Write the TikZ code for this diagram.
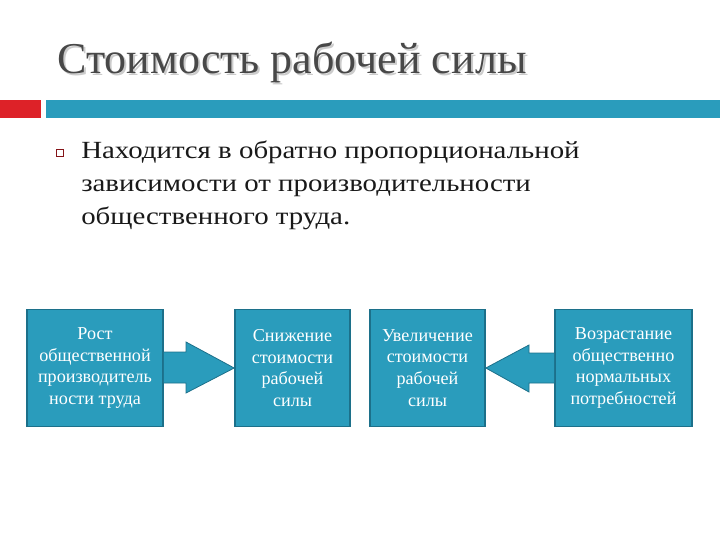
\documentclass[tikz,border=0pt]{standalone}
\usepackage{fontspec}
\setmainfont{Liberation Serif}
\newfontfamily\widefont[FakeStretch=1.17]{Liberation Serif}
\usetikzlibrary{positioning, calc}

\definecolor{tealfill}{RGB}{42,156,188}
\definecolor{tealline}{RGB}{28,112,138}
\definecolor{barred}{RGB}{221,34,40}
\definecolor{titlegray}{RGB}{72,72,72}

\begin{document}
\begin{tikzpicture}[
  x=0.75pt, y=-0.75pt,
  titletext/.style={font=\fontsize{33}{38}\selectfont, text=titlegray, inner sep=0pt, anchor=base west},
  bodytext/.style={font=\widefont\fontsize{18.5}{24.75}\selectfont, text=black!90, align=left, inner sep=0pt, anchor=base west},
  sbox/.style={rectangle, draw=tealline, line width=1.2pt, fill=tealfill, text=white, align=center, minimum height=87.75pt, font=\fontsize{13.6}{16.3}\selectfont, inner sep=2pt},
  barrow/.style={draw=tealline, line width=0.6pt, fill=tealfill},
  bulletbox/.style={draw=barred!60!black, line width=0.4pt, minimum size=5pt, inner sep=0pt}
]
\useasboundingbox (0,0) rectangle (720,540);

% title, with its shadow
\node[titletext, text=black!20] (tshadow) at (59,75) {Стоимость рабочей силы};
\node[titletext] (title) at (57,73) {Стоимость рабочей силы};

% bars under the title
\fill[barred] (0,100) rectangle (41,118);
\fill[tealfill] (46,100) rectangle (720,118);

% bullet point
\node[bulletbox] (bullet) at (60,152.5) {};
\node[bodytext] (body) at (81,224)
  {Находится в обратно пропорциональной\\
   зависимости от производительности\\
   общественного труда.};

% the four boxes
\node[sbox, minimum width=102pt] (grow) at (95,368)
  {Рост\\общественной\\производитель\\ности труда};
\node[sbox, minimum width=86.25pt] (fall) at (292.5,368)
  {Снижение\\стоимости\\рабочей\\силы};
\node[sbox, minimum width=86.25pt] (rise) at (427.5,368)
  {Увеличение\\стоимости\\рабочей\\силы};
\node[sbox, minimum width=102.75pt] (needs) at (623.5,368)
  {Возрастание\\общественно\\нормальных\\потребностей};

% block arrows
\draw[barrow] (grow.east |- 0,352) -- (186,352) -- (186,342)
  -- (fall.west |- 0,368) -- (186,393) -- (186,383) -- (grow.east |- 0,383);
\draw[barrow] (needs.west |- 0,353) -- (529,353) -- (529,345)
  -- (rise.east |- 0,368) -- (529,392) -- (529,383) -- (needs.west |- 0,383);
\end{tikzpicture}
\end{document}
